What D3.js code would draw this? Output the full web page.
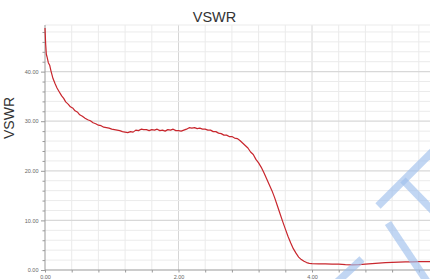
<!DOCTYPE html>
<html><head><meta charset="utf-8">
<script src="https://cdn.jsdelivr.net/npm/d3@7"></script>
<style>body{margin:0;background:#fff}svg{display:block}</style>
</head><body>
<svg id="c" width="430" height="279"></svg>
<script>
const title = "VSWR";
const yLabel = "VSWR";
const xTickLabels = [0, 2, 4];
const yTickLabels = [0, 10, 20, 30, 40];
const freq = [0,0.01,0.02,0.03,0.05,0.07,0.09,0.12,0.15,0.18,0.21,0.25,0.28,0.31,0.35,0.38,0.42,0.45,0.49,0.52,0.56,0.60,0.64,0.68,0.72,0.76,0.80,0.84,0.88,0.92,0.96,1.00,1.04,1.08,1.12,1.16,1.20,1.24,1.28,1.32,1.36,1.40,1.44,1.48,1.52,1.56,1.60,1.64,1.68,1.72,1.76,1.80,1.84,1.88,1.92,1.96,2.00,2.04,2.08,2.12,2.16,2.20,2.24,2.28,2.32,2.36,2.40,2.44,2.48,2.52,2.56,2.60,2.64,2.68,2.72,2.76,2.80,2.84,2.88,2.92,2.96,3.00,3.04,3.08,3.12,3.16,3.20,3.24,3.28,3.32,3.36,3.40,3.44,3.48,3.52,3.56,3.60,3.64,3.68,3.72,3.76,3.80,3.84,3.88,3.92,3.96,4.00,4.10,4.20,4.30,4.40,4.50,4.60,4.70,4.80,4.90,5.00,5.10,5.20,5.30,5.40,5.50,5.60,5.80];
const vswr = [48.8,45.5,43.5,43.0,41.8,41.3,40.1,38.6,37.6,36.7,36.0,35.1,34.6,33.9,33.4,32.9,32.6,32.1,31.8,31.3,31.0,30.6,30.3,30.1,29.7,29.5,29.2,29.1,28.8,28.7,28.6,28.4,28.3,28.2,28.1,27.9,27.8,27.7,27.9,27.8,28.2,28.1,28.4,28.3,28.3,28.1,28.3,28.2,28.4,28.1,28.2,28.0,28.3,28.2,28.4,28.1,28.1,28.0,28.2,28.4,28.7,28.6,28.7,28.5,28.6,28.4,28.4,28.2,28.2,27.9,27.9,27.6,27.5,27.2,27.2,26.9,26.9,26.6,26.5,26.1,25.6,25.1,24.6,23.8,23.3,22.3,21.6,20.7,19.6,18.4,17.2,16.0,14.6,13.0,11.4,9.8,8.3,6.8,5.5,4.3,3.4,2.6,2.1,1.75,1.5,1.35,1.3,1.25,1.22,1.2,1.18,1.1,1.05,1.1,1.2,1.3,1.4,1.5,1.55,1.6,1.65,1.65,1.67,1.68];

const svg = d3.select("#c");
const x = d3.scaleLinear().domain([0, 6]).range([45, 445.5]);
const y = d3.scaleLinear().domain([0, 49.4]).range([270, 25]);

const xMinor = d3.range(0, 5.7, 0.4);
const yMinor = d3.range(0, 49.4, 2);
const isMajorX = v => xTickLabels.some(t => Math.abs(t - v) < 1e-6);
const isMajorY = v => yTickLabels.some(t => Math.abs(t - v) < 1e-6);

// grid
svg.append("g").selectAll("line").data(xMinor.filter(v => v > 0)).join("line")
  .attr("x1", d => x(d)).attr("x2", d => x(d)).attr("y1", 25).attr("y2", 270)
  .attr("stroke", d => isMajorX(d) ? "#d6d6d6" : "#ebebeb").attr("stroke-width", 1);
svg.append("g").selectAll("line").data(yMinor.filter(v => v > 0).concat([49.4])).join("line")
  .attr("x1", 45).attr("x2", 430).attr("y1", d => y(d)).attr("y2", d => y(d))
  .attr("stroke", d => isMajorY(d) ? "#d8d8d8" : "#ebebeb").attr("stroke-width", d => isMajorY(d) ? 1.3 : 1);

// axes
const yAxis = d3.axisLeft(y).tickValues(yMinor).tickSize(3).tickFormat(d => isMajorY(d) ? d3.format(".2f")(d) : "");
const gy = svg.append("g").attr("transform", "translate(45,0)").call(yAxis);
gy.select(".domain").attr("d", "M0,25V270").attr("stroke", "#999");
gy.selectAll(".tick line").attr("stroke", "#999").attr("x2", d => isMajorY(d) ? -4 : -2.5);
gy.selectAll(".tick text").attr("font-family", "Liberation Sans, Arial, sans-serif").attr("font-size", "5.5px").attr("fill", "#666").attr("x", -6.5);

const xAxis = d3.axisBottom(x).tickValues(xMinor).tickSize(2.5).tickFormat(d => isMajorX(d) ? d3.format(".2f")(d) : "");
const gx = svg.append("g").attr("transform", "translate(0,270)").call(xAxis);
gx.select(".domain").attr("d", "M45,0H430").attr("stroke", "#999");
gx.selectAll(".tick line").attr("stroke", "#999");
gx.selectAll(".tick text").attr("font-family", "Liberation Sans, Arial, sans-serif").attr("font-size", "5.5px").attr("fill", "#666").attr("y", 5.5);

// line
const pts = freq.map((f, i) => [f, vswr[i]]);
svg.append("path").datum(pts)
  .attr("d", d3.line().x(d => x(d[0])).y(d => y(d[1])))
  .attr("fill", "none").attr("stroke", "#c8262d").attr("stroke-width", 1.2).attr("stroke-linejoin", "round");

// titles
svg.append("text").attr("x", 214.5).attr("y", 21.5).attr("text-anchor", "middle")
  .attr("font-family", "Liberation Sans, Arial, sans-serif").attr("font-size", "14.5px").attr("fill", "#333").text(title);
svg.append("text").attr("transform", "translate(14,118) rotate(-90)").attr("text-anchor", "middle")
  .attr("font-family", "Liberation Sans, Arial, sans-serif").attr("font-size", "14px").attr("fill", "#333").text(yLabel);

// watermark decoration
const wm = svg.append("g").attr("stroke", "#9fc0ec").attr("stroke-opacity", 0.65).attr("stroke-width", 7.5).attr("stroke-linecap", "butt");
[[378,206,438,146],[403,180,438,216],[388,223,428,283],[334,285,362,259]].forEach(s =>
  wm.append("line").attr("x1", s[0]).attr("y1", s[1]).attr("x2", s[2]).attr("y2", s[3]));
</script>
</body></html>
